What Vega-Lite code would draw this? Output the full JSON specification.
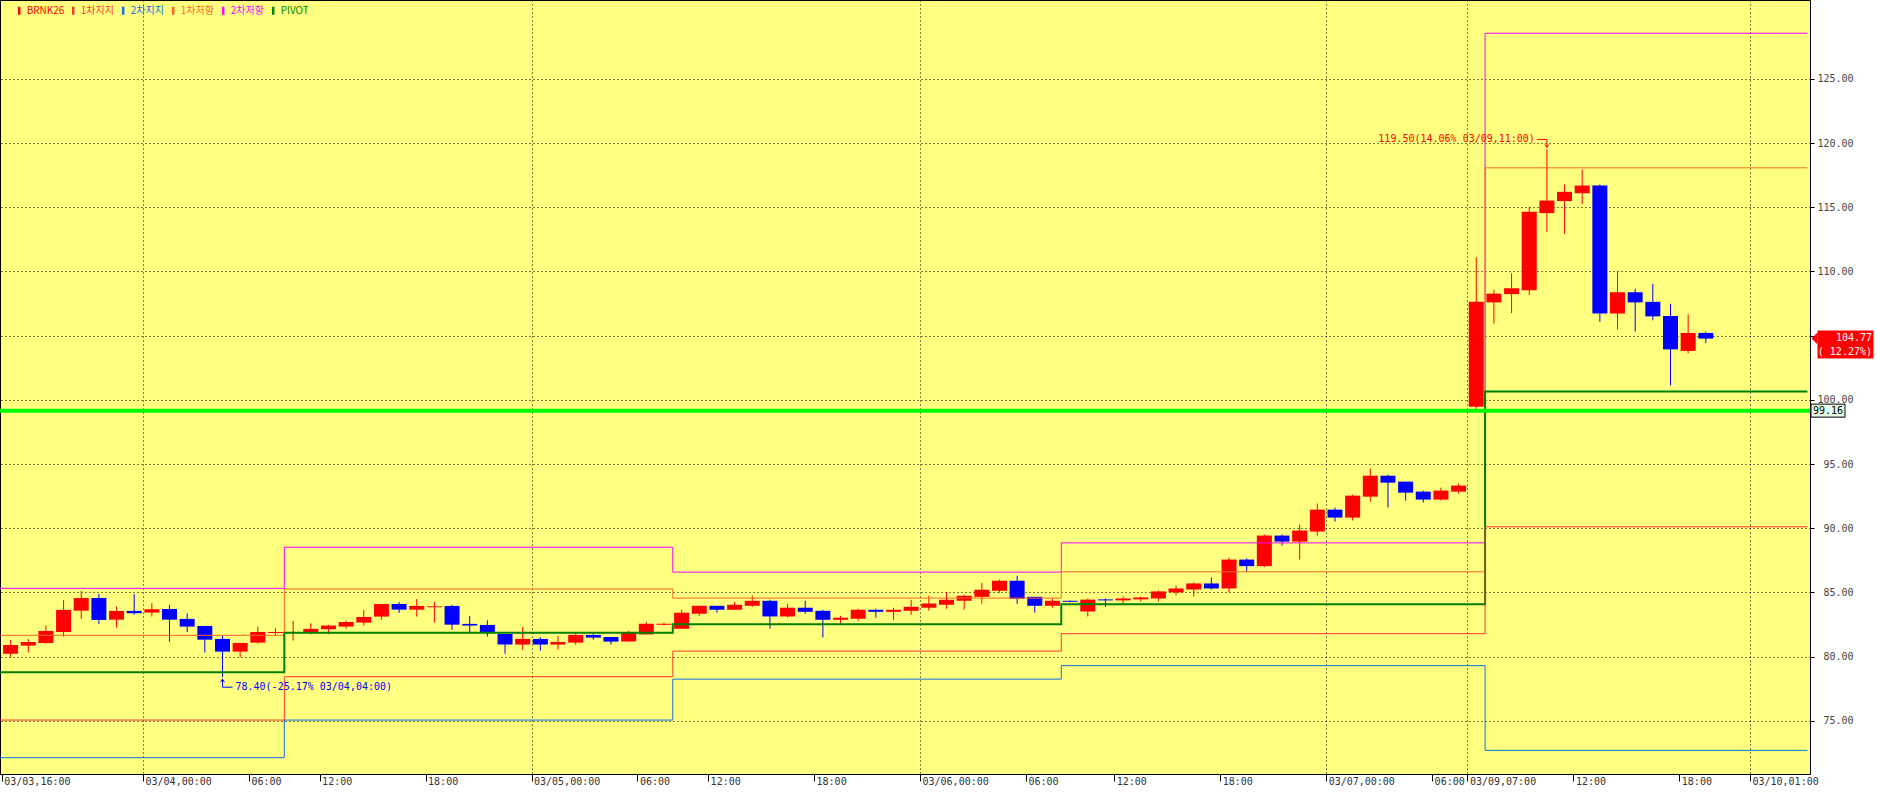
{
  "$schema": "https://vega.github.io/schema/vega-lite/v6.json",
  "width": 1810,
  "height": 774,
  "autosize": {"type": "none"},
  "padding": {"left": 0, "top": 0, "right": 67, "bottom": 19},
  "background": "#ffffff",
  "config": {"view": {"fill": "#FFFF80", "stroke": "#000000", "strokeWidth": 1}},
  "datasets": {
    "candles": [
      {"slot": 0, "o": 80.23, "h": 81.30, "l": 79.95, "c": 80.91},
      {"slot": 1, "o": 80.86, "h": 81.38, "l": 80.31, "c": 81.14},
      {"slot": 2, "o": 81.06, "h": 82.42, "l": 81.01, "c": 82.00},
      {"slot": 3, "o": 81.92, "h": 84.42, "l": 81.56, "c": 83.64},
      {"slot": 4, "o": 83.58, "h": 85.12, "l": 82.94, "c": 84.57},
      {"slot": 5, "o": 84.57, "h": 84.88, "l": 82.55, "c": 82.86},
      {"slot": 6, "o": 82.88, "h": 83.90, "l": 82.26, "c": 83.56},
      {"slot": 7, "o": 83.56, "h": 84.88, "l": 83.27, "c": 83.38},
      {"slot": 8, "o": 83.43, "h": 84.16, "l": 83.12, "c": 83.69},
      {"slot": 9, "o": 83.71, "h": 84.03, "l": 81.17, "c": 82.88},
      {"slot": 10, "o": 82.94, "h": 83.38, "l": 81.92, "c": 82.34},
      {"slot": 11, "o": 82.39, "h": 82.39, "l": 80.31, "c": 81.32},
      {"slot": 12, "o": 81.38, "h": 81.64, "l": 78.40, "c": 80.39},
      {"slot": 13, "o": 80.39, "h": 81.06, "l": 79.95, "c": 81.06},
      {"slot": 14, "o": 81.09, "h": 82.34, "l": 81.01, "c": 81.92},
      {"slot": 15, "o": 81.84, "h": 82.21, "l": 81.64, "c": 81.92},
      {"slot": 16, "o": 81.84, "h": 82.78, "l": 81.25, "c": 81.92},
      {"slot": 17, "o": 81.90, "h": 82.60, "l": 81.74, "c": 82.16},
      {"slot": 18, "o": 82.13, "h": 82.47, "l": 81.74, "c": 82.42},
      {"slot": 19, "o": 82.34, "h": 82.81, "l": 82.18, "c": 82.70},
      {"slot": 20, "o": 82.65, "h": 83.64, "l": 82.42, "c": 83.09},
      {"slot": 21, "o": 83.12, "h": 84.10, "l": 82.88, "c": 84.10},
      {"slot": 22, "o": 84.10, "h": 84.26, "l": 83.40, "c": 83.66},
      {"slot": 23, "o": 83.66, "h": 84.49, "l": 83.12, "c": 83.95},
      {"slot": 24, "o": 83.85, "h": 84.26, "l": 82.65, "c": 83.92},
      {"slot": 25, "o": 83.95, "h": 84.03, "l": 82.10, "c": 82.49},
      {"slot": 26, "o": 82.55, "h": 83.17, "l": 81.92, "c": 82.42},
      {"slot": 27, "o": 82.47, "h": 82.83, "l": 81.56, "c": 81.92},
      {"slot": 28, "o": 81.77, "h": 81.77, "l": 80.23, "c": 80.94},
      {"slot": 29, "o": 80.94, "h": 82.31, "l": 80.52, "c": 81.38},
      {"slot": 30, "o": 81.38, "h": 81.51, "l": 80.47, "c": 80.94},
      {"slot": 31, "o": 80.94, "h": 81.61, "l": 80.55, "c": 81.14},
      {"slot": 32, "o": 81.09, "h": 81.77, "l": 80.94, "c": 81.69},
      {"slot": 33, "o": 81.69, "h": 81.77, "l": 81.32, "c": 81.48},
      {"slot": 34, "o": 81.53, "h": 81.53, "l": 80.94, "c": 81.17},
      {"slot": 35, "o": 81.18, "h": 82.01, "l": 81.18, "c": 81.88},
      {"slot": 36, "o": 81.73, "h": 82.71, "l": 81.73, "c": 82.56},
      {"slot": 37, "o": 82.48, "h": 82.64, "l": 82.43, "c": 82.56},
      {"slot": 38, "o": 82.17, "h": 83.65, "l": 82.17, "c": 83.42},
      {"slot": 39, "o": 83.34, "h": 83.96, "l": 83.18, "c": 83.96},
      {"slot": 40, "o": 83.96, "h": 83.96, "l": 83.42, "c": 83.65},
      {"slot": 41, "o": 83.65, "h": 84.27, "l": 83.65, "c": 84.04},
      {"slot": 42, "o": 83.96, "h": 84.77, "l": 83.88, "c": 84.35},
      {"slot": 43, "o": 84.35, "h": 84.43, "l": 82.17, "c": 83.13},
      {"slot": 44, "o": 83.13, "h": 84.12, "l": 83.05, "c": 83.81},
      {"slot": 45, "o": 83.81, "h": 84.35, "l": 83.34, "c": 83.49},
      {"slot": 46, "o": 83.57, "h": 83.65, "l": 81.49, "c": 82.87},
      {"slot": 47, "o": 82.87, "h": 83.18, "l": 82.56, "c": 83.03},
      {"slot": 48, "o": 82.95, "h": 83.73, "l": 82.79, "c": 83.65},
      {"slot": 49, "o": 83.65, "h": 83.73, "l": 83.03, "c": 83.49},
      {"slot": 50, "o": 83.49, "h": 83.81, "l": 82.87, "c": 83.65},
      {"slot": 51, "o": 83.57, "h": 84.43, "l": 83.26, "c": 83.88},
      {"slot": 52, "o": 83.81, "h": 84.74, "l": 83.57, "c": 84.14},
      {"slot": 53, "o": 84.04, "h": 85.05, "l": 83.73, "c": 84.43},
      {"slot": 54, "o": 84.35, "h": 84.82, "l": 83.65, "c": 84.74},
      {"slot": 55, "o": 84.66, "h": 85.75, "l": 84.12, "c": 85.21},
      {"slot": 56, "o": 85.13, "h": 85.99, "l": 84.98, "c": 85.91},
      {"slot": 57, "o": 85.91, "h": 86.30, "l": 84.12, "c": 84.51},
      {"slot": 58, "o": 84.66, "h": 84.66, "l": 83.42, "c": 83.96},
      {"slot": 59, "o": 83.96, "h": 84.51, "l": 83.81, "c": 84.35},
      {"slot": 60, "o": 84.35, "h": 84.37, "l": 84.25, "c": 84.27},
      {"slot": 61, "o": 83.52, "h": 84.52, "l": 83.13, "c": 84.44},
      {"slot": 62, "o": 84.46, "h": 84.53, "l": 83.86, "c": 84.38},
      {"slot": 63, "o": 84.38, "h": 84.69, "l": 84.15, "c": 84.53},
      {"slot": 64, "o": 84.46, "h": 84.69, "l": 84.30, "c": 84.61},
      {"slot": 65, "o": 84.53, "h": 85.16, "l": 84.30, "c": 85.08},
      {"slot": 66, "o": 85.00, "h": 85.54, "l": 84.77, "c": 85.31},
      {"slot": 67, "o": 85.23, "h": 85.78, "l": 84.69, "c": 85.70},
      {"slot": 68, "o": 85.70, "h": 86.17, "l": 85.23, "c": 85.31},
      {"slot": 69, "o": 85.31, "h": 87.72, "l": 85.00, "c": 87.56},
      {"slot": 70, "o": 87.56, "h": 87.64, "l": 86.63, "c": 87.05},
      {"slot": 71, "o": 87.05, "h": 89.51, "l": 86.97, "c": 89.43},
      {"slot": 72, "o": 89.43, "h": 89.51, "l": 88.65, "c": 88.96},
      {"slot": 73, "o": 88.96, "h": 90.28, "l": 87.56, "c": 89.82},
      {"slot": 74, "o": 89.74, "h": 91.92, "l": 89.43, "c": 91.45},
      {"slot": 75, "o": 91.45, "h": 91.61, "l": 90.52, "c": 90.83},
      {"slot": 76, "o": 90.83, "h": 92.62, "l": 90.60, "c": 92.54},
      {"slot": 77, "o": 92.46, "h": 94.64, "l": 92.07, "c": 94.09},
      {"slot": 78, "o": 94.09, "h": 94.17, "l": 91.61, "c": 93.55},
      {"slot": 79, "o": 93.63, "h": 93.63, "l": 92.15, "c": 92.77},
      {"slot": 80, "o": 92.85, "h": 92.93, "l": 92.00, "c": 92.23},
      {"slot": 81, "o": 92.23, "h": 93.16, "l": 92.15, "c": 92.93},
      {"slot": 82, "o": 92.85, "h": 93.47, "l": 92.69, "c": 93.32},
      {"slot": 83, "o": 99.47, "h": 111.10, "l": 99.28, "c": 107.63},
      {"slot": 84, "o": 107.59, "h": 108.57, "l": 105.93, "c": 108.27},
      {"slot": 85, "o": 108.23, "h": 109.86, "l": 106.76, "c": 108.69},
      {"slot": 86, "o": 108.53, "h": 115.03, "l": 108.16, "c": 114.65},
      {"slot": 87, "o": 114.54, "h": 119.50, "l": 113.07, "c": 115.52},
      {"slot": 88, "o": 115.48, "h": 116.77, "l": 112.92, "c": 116.20},
      {"slot": 89, "o": 116.09, "h": 117.94, "l": 115.26, "c": 116.69},
      {"slot": 90, "o": 116.69, "h": 116.77, "l": 106.08, "c": 106.72},
      {"slot": 91, "o": 106.72, "h": 110.05, "l": 105.48, "c": 108.38},
      {"slot": 92, "o": 108.38, "h": 108.65, "l": 105.32, "c": 107.59},
      {"slot": 93, "o": 107.63, "h": 109.03, "l": 106.19, "c": 106.50},
      {"slot": 94, "o": 106.53, "h": 107.48, "l": 101.13, "c": 103.93},
      {"slot": 95, "o": 103.81, "h": 106.65, "l": 103.63, "c": 105.21},
      {"slot": 96, "o": 105.21, "h": 105.32, "l": 104.42, "c": 104.77}
    ],
    "levels": [
      {"series": "2차저항", "x": -0.6, "v": 85.32},
      {"series": "2차저항", "x": 15.5, "v": 88.52},
      {"series": "2차저항", "x": 37.5, "v": 86.58},
      {"series": "2차저항", "x": 59.5, "v": 88.86},
      {"series": "2차저항", "x": 83.5, "v": 128.55},
      {"series": "2차저항", "x": 101.75, "v": 128.55},
      {"series": "1차저항", "x": -0.6, "v": 81.66},
      {"series": "1차저항", "x": 15.5, "v": 85.27},
      {"series": "1차저항", "x": 37.5, "v": 84.56},
      {"series": "1차저항", "x": 59.5, "v": 86.61},
      {"series": "1차저항", "x": 83.5, "v": 118.07},
      {"series": "1차저항", "x": 101.75, "v": 118.07},
      {"series": "PIVOT", "x": -0.6, "v": 78.78},
      {"series": "PIVOT", "x": 15.5, "v": 81.87},
      {"series": "PIVOT", "x": 37.5, "v": 82.53},
      {"series": "PIVOT", "x": 59.5, "v": 84.09},
      {"series": "PIVOT", "x": 83.5, "v": 100.64},
      {"series": "PIVOT", "x": 101.75, "v": 100.64},
      {"series": "1차지지", "x": -0.6, "v": 75.06},
      {"series": "1차지지", "x": 15.5, "v": 78.44},
      {"series": "1차지지", "x": 37.5, "v": 80.43},
      {"series": "1차지지", "x": 59.5, "v": 81.79},
      {"series": "1차지지", "x": 83.5, "v": 90.11},
      {"series": "1차지지", "x": 101.75, "v": 90.11},
      {"series": "2차지지", "x": -0.6, "v": 72.13},
      {"series": "2차지지", "x": 15.5, "v": 75.06},
      {"series": "2차지지", "x": 37.5, "v": 78.25},
      {"series": "2차지지", "x": 59.5, "v": 79.30},
      {"series": "2차지지", "x": 83.5, "v": 72.70},
      {"series": "2차지지", "x": 101.75, "v": 72.70}
    ],
    "base": [{"v": 99.16, "label": "99.16"}],
    "last": [{"v": 104.77, "price": "104.77", "pct": "( 12.27%)"}],
    "hi": [{"slot": 87, "v": 119.5, "label": "119.50(14.06% 03/09,11:00)"}],
    "lo": [{"slot": 12, "v": 78.4, "label": "78.40(-25.17% 03/04,04:00)"}]
  },
  "layer": [
    {
      "data": {"name": "candles"},
      "mark": {"type": "rule", "strokeWidth": 1},
      "encoding": {
        "x": {
          "field": "slot", "type": "quantitative",
          "scale": {"domain": [-0.6, 101.9], "nice": false, "zero": false, "padding": 0},
          "axis": {
            "orient": "bottom", "title": null, "domain": false,
            "values": [-0.5, 7.5, 13.5, 17.5, 23.5, 29.5, 35.5, 39.5, 45.5, 51.5, 57.5, 62.5, 68.5, 74.5, 80.5, 82.5, 88.5, 94.5, 98.5],
            "labelExpr": "['03/03,16:00','03/04,00:00','06:00','12:00','18:00','03/05,00:00','06:00','12:00','18:00','03/06,00:00','06:00','12:00','18:00','03/07,00:00','06:00','03/09,07:00','12:00','18:00','03/10,01:00'][indexof([-0.5,7.5,13.5,17.5,23.5,29.5,35.5,39.5,45.5,51.5,57.5,62.5,68.5,74.5,80.5,82.5,88.5,94.5,98.5], datum.value)]",
            "ticks": true, "tickSize": 7, "tickColor": "#000000", "tickWidth": 1,
            "labelAlign": "left", "labelBaseline": "top", "labelPadding": -5, "labelOffset": 2,
            "labelFont": "DejaVu Sans Mono", "labelFontSize": 10, "labelColor": "#333333",
            "labelOverlap": false, "labelFlush": false, "labelBound": false,
            "grid": true, "gridColor": "#000000", "gridDash": [1, 3], "gridWidth": 1,
            "gridOpacity": {"condition": {"test": "indexof([7.5,29.5,51.5,74.5,82.5,98.5], datum.value) >= 0", "value": 1}, "value": 0}
          }
        },
        "y": {
          "field": "l", "type": "quantitative",
          "scale": {"domain": [70.86, 131.14], "nice": false, "zero": false, "padding": 0},
          "axis": {
            "orient": "right", "title": null, "domain": false,
            "values": [75, 80, 85, 90, 95, 100, 105, 110, 115, 120, 125],
            "format": ".2f",
            "ticks": true, "tickSize": 4, "tickColor": "#000000",
            "labelAlign": "right", "labelBaseline": "middle", "labelPadding": 39,
            "labelFont": "DejaVu Sans Mono", "labelFontSize": 10, "labelColor": "#444444",
            "labelOverlap": false, "labelFlush": false, "labelBound": false,
            "grid": true, "gridColor": "#000000", "gridDash": [1, 3], "gridOpacity": 1, "gridWidth": 1
          }
        },
        "y2": {"field": "h"},
        "color": {"condition": {"test": "datum.c >= datum.o", "value": "#FF0000"}, "value": "#0000FF"}
      }
    },
    {
      "data": {"name": "candles"},
      "mark": {"type": "bar", "width": 15},
      "encoding": {
        "x": {"field": "slot", "type": "quantitative"},
        "y": {"field": "o", "type": "quantitative"},
        "y2": {"field": "c"},
        "color": {"condition": {"test": "datum.c >= datum.o", "value": "#FF0000"}, "value": "#0000FF"}
      }
    },
    {
      "data": {"name": "levels"},
      "mark": {"type": "line", "interpolate": "step-after"},
      "encoding": {
        "x": {"field": "x", "type": "quantitative"},
        "y": {"field": "v", "type": "quantitative"},
        "color": {
          "field": "series", "type": "nominal",
          "scale": {
            "domain": ["BRNK26", "1차지지", "2차지지", "1차저항", "2차저항", "PIVOT"],
            "range": ["#FF0000", "#FF3333", "#1070E0", "#FF6628", "#FF00FF", "#008000"]
          },
          "legend": {
            "orient": "none", "legendX": 13.7, "legendY": 5, "direction": "horizontal",
            "title": null, "padding": 0,
            "symbolType": "M0,-1V1", "symbolSize": 64, "symbolStrokeWidth": 2.5,
            "labelFont": "Noto Sans CJK KR", "labelFontSize": 10,
            "labelColor": {"expr": "scale('color', datum.value)"},
            "labelOffset": 2, "columnPadding": 3, "labelBaseline": "middle"
          }
        },
        "strokeWidth": {"condition": {"test": "datum.series === 'PIVOT'", "value": 2}, "value": 1}
      }
    },
    {
      "data": {"name": "base"},
      "mark": {"type": "rule", "color": "#00FF00", "strokeWidth": 4},
      "encoding": {"y": {"field": "v", "type": "quantitative"}}
    },
    {
      "data": {"name": "hi"},
      "mark": {"type": "text", "align": "right", "baseline": "middle", "dx": -12, "dy": -10, "font": "DejaVu Sans Mono", "fontSize": 10, "color": "#FF0000"},
      "encoding": {
        "x": {"field": "slot", "type": "quantitative"},
        "y": {"field": "v", "type": "quantitative"},
        "text": {"field": "label"}
      }
    },
    {
      "data": {"name": "hi"},
      "mark": {"type": "point", "shape": "M-10,-10H0V-2M-2,-5L0,-2L2,-5", "size": 4, "filled": false, "stroke": "#FF0000", "strokeWidth": 1, "opacity": 1},
      "encoding": {
        "x": {"field": "slot", "type": "quantitative"},
        "y": {"field": "v", "type": "quantitative"}
      }
    },
    {
      "data": {"name": "lo"},
      "mark": {"type": "text", "align": "left", "baseline": "middle", "dx": 13, "dy": 10, "font": "DejaVu Sans Mono", "fontSize": 10, "color": "#0000FF"},
      "encoding": {
        "x": {"field": "slot", "type": "quantitative"},
        "y": {"field": "v", "type": "quantitative"},
        "text": {"field": "label"}
      }
    },
    {
      "data": {"name": "lo"},
      "mark": {"type": "point", "shape": "M0,2V10H10M-2,5L0,2L2,5", "size": 4, "filled": false, "stroke": "#0000FF", "strokeWidth": 1, "opacity": 1},
      "encoding": {
        "x": {"field": "slot", "type": "quantitative"},
        "y": {"field": "v", "type": "quantitative"}
      }
    },
    {
      "data": {"name": "base"},
      "mark": {"type": "point", "shape": "M-17,-6.5H17V6.5H-17Z", "size": 4, "x": {"expr": "width + 18"}, "filled": true, "fill": "#E6FFE6", "stroke": "#000000", "strokeWidth": 1, "opacity": 1},
      "encoding": {"y": {"field": "v", "type": "quantitative"}}
    },
    {
      "data": {"name": "base"},
      "mark": {"type": "text", "align": "center", "baseline": "middle", "x": {"expr": "width + 18"}, "font": "DejaVu Sans Mono", "fontSize": 10, "color": "#000000"},
      "encoding": {"y": {"field": "v", "type": "quantitative"}, "text": {"field": "label"}}
    },
    {
      "data": {"name": "last"},
      "mark": {"type": "point", "shape": "M0,-8H56V20H0Z", "size": 4, "x": {"expr": "width + 7.5"}, "filled": true, "fill": "#FF0000", "strokeWidth": 0, "opacity": 1},
      "encoding": {"y": {"field": "v", "type": "quantitative"}}
    },
    {
      "data": {"name": "last"},
      "mark": {"type": "point", "shape": "M0,0L6,-6V6Z", "size": 4, "x": {"expr": "width + 1.5"}, "filled": true, "fill": "#FF0000", "strokeWidth": 0, "opacity": 1},
      "encoding": {"y": {"field": "v", "type": "quantitative"}}
    },
    {
      "data": {"name": "last"},
      "mark": {"type": "text", "align": "right", "baseline": "middle", "x": {"expr": "width + 62"}, "dy": -1, "font": "DejaVu Sans Mono", "fontSize": 10, "color": "#FFFFFF"},
      "encoding": {"y": {"field": "v", "type": "quantitative"}, "text": {"field": "price"}}
    },
    {
      "data": {"name": "last"},
      "mark": {"type": "text", "align": "right", "baseline": "middle", "x": {"expr": "width + 62"}, "dy": 13, "font": "DejaVu Sans Mono", "fontSize": 10, "color": "#FFFFFF"},
      "encoding": {"y": {"field": "v", "type": "quantitative"}, "text": {"field": "pct"}}
    }
  ]
}
